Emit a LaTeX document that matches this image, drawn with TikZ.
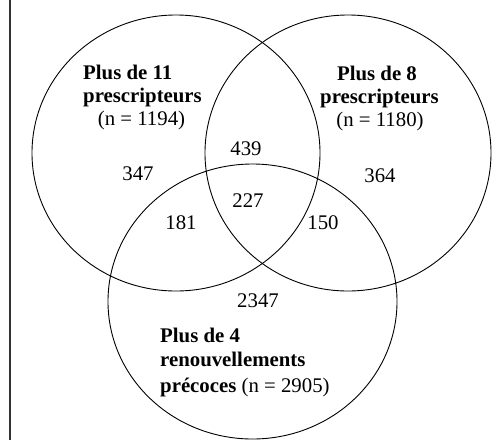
\documentclass[tikz,border=0pt]{standalone}
\usepackage{fontspec}
\setmainfont{Liberation Serif}
\begin{document}
\begin{tikzpicture}[x=1pt,y=-1pt,
  set/.style={draw=black,line width=0.9pt},
  lbl/.style={font=\fontsize{20.8}{24}\selectfont,inner sep=0pt,anchor=base},
  lbll/.style={lbl,anchor=base west}]
\useasboundingbox (0,0) rectangle (492,440);
\draw[line width=2pt,draw=black!80] (10,0) -- (10,440);
\draw[set] (176,153) ellipse [x radius=144, y radius=138];
\draw[set] (348,153) ellipse [x radius=143, y radius=138];
\draw[set] (252.5,301.5) ellipse [x radius=144.5, y radius=137.5];
% left set label
\node[lbll] (a1) at (83,79) {\textbf{Plus de 11}};
\node[lbll] (a2) at (83,102) {\textbf{prescripteurs}};
\node[lbl] (a3) at (141.5,125) {(n = 1194)};
% right set label
\node[lbl] (b1) at (377,80) {\textbf{Plus de 8}};
\node[lbl] (b2) at (379.5,103) {\textbf{prescripteurs}};
\node[lbl] (b3) at (380,126) {(n = 1180)};
% bottom set label
\node[lbll] (c1) at (160,342) {\textbf{Plus de 4}};
\node[lbll] (c2) at (160,366) {\textbf{renouvellements}};
\node[lbll] (c3) at (160,392) {\textbf{précoces} (n = 2905)};
% counts
\node[lbl] (n347) at (138,180) {347};
\node[lbl] (n439) at (246,155) {439};
\node[lbl] (n364) at (380,182) {364};
\node[lbl] (n227) at (248,207) {227};
\node[lbl] (n181) at (181,229) {181};
\node[lbl] (n150) at (323,229) {150};
\node[lbl] (n2347) at (258,307) {2347};
\end{tikzpicture}
\end{document}
